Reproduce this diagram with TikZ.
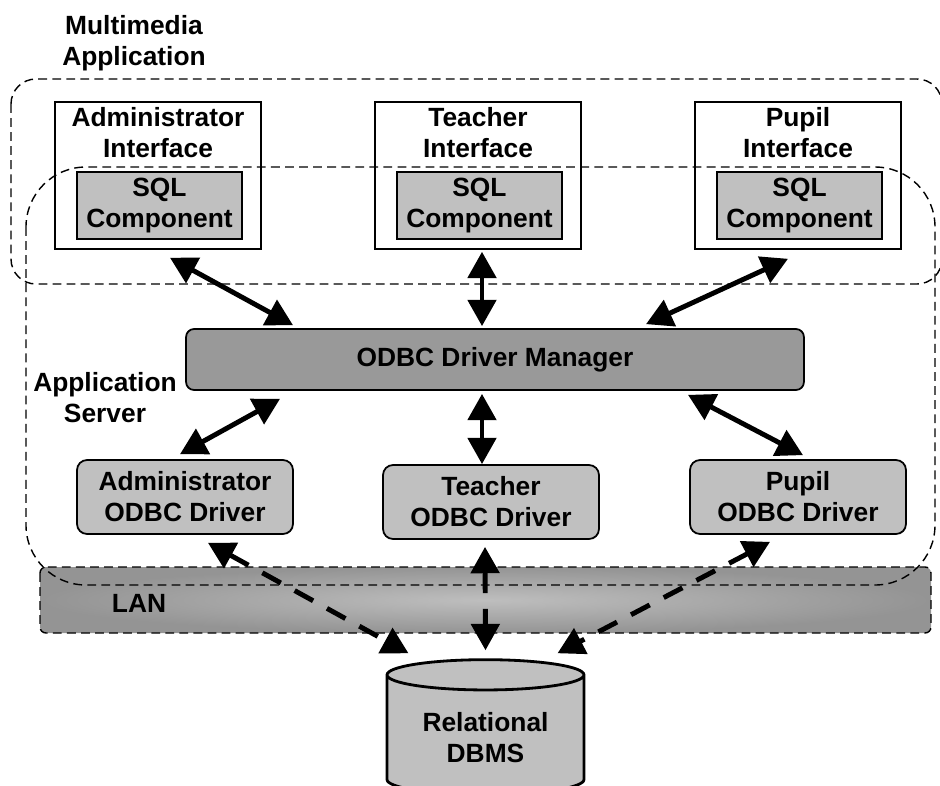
\documentclass[tikz,border=0pt]{standalone}
\usepackage{fontspec}
\setmainfont{Liberation Sans}
\usetikzlibrary{arrows.meta,shapes.geometric}

\definecolor{sqlgray}{HTML}{C0C0C0}
\definecolor{mgrgray}{HTML}{999999}
\definecolor{lanlight}{HTML}{BEBEBE}
\definecolor{landark}{HTML}{949494}

\begin{document}
\begin{tikzpicture}[x=0.02cm, y=-0.02cm,
  font=\fontsize{15}{17.6}\selectfont\bfseries,
  >={Triangle[length=15pt,width=16pt]},
  iface/.style={draw, line width=0.9pt, fill=white, minimum width=4.12cm, minimum height=2.94cm},
  title/.style={anchor=north, align=center, inner sep=3.5pt},
  sql/.style={draw, line width=1.2pt, fill=sqlgray, minimum width=3.3cm, minimum height=1.34cm, align=center, inner sep=1pt},
  driver/.style={draw, line width=1pt, fill=sqlgray, rounded corners=0.2cm, minimum width=4.32cm, minimum height=1.48cm, align=center, inner sep=1pt},
  region/.style={line width=0.8pt, dash pattern=on 5pt off 3pt},
  link/.style={<->, line width=2.8pt},
  lanlink/.style={<->, line width=2.8pt, dash pattern=on 12pt off 9pt}]
  \useasboundingbox (0,0) rectangle (940,785);
  % network band
  \shade[region, draw, rounded corners=0.12cm, inner color=lanlight, outer color=landark]
    (40,567) rectangle (931,633);
  \node (lan) at (139,603) {LAN};
  % client interfaces with their SQL parts
  \node[iface, label={[title]north:Administrator\\Interface}] (ai) at (158,175.5) {};
  \node[iface, label={[title]north:Teacher\\Interface}]       (ti) at (478,175.5) {};
  \node[iface, label={[title]north:Pupil\\Interface}]         (pi) at (798,175.5) {};
  \node[sql] (as) at (159.5,205.5) {SQL\\Component};
  \node[sql] (ts) at (479.5,205.5) {SQL\\Component};
  \node[sql] (ps) at (799.5,205.5) {SQL\\Component};
  % server side
  \node[draw, line width=1pt, fill=mgrgray, rounded corners=0.16cm, minimum width=12.36cm, minimum height=1.22cm]
    (mgr) at (495,359.5) {ODBC Driver Manager};
  \node[driver] (ad) at (185,497) {Administrator\\ODBC Driver};
  \node[driver] (td) at (491,502) {Teacher\\ODBC Driver};
  \node[driver] (pd) at (798,497) {Pupil\\ODBC Driver};
  \node[cylinder, shape border rotate=90, aspect=0.22, draw, line width=1.6pt, fill=sqlgray,
    minimum width=3.94cm, minimum height=2.7cm, align=center] (db) at (485.5,738) {Relational\\DBMS};
  % dashed groups
  \draw[region, rounded corners=0.5cm] (11,79) rectangle (942,284);
  \draw[region, rounded corners=1.2cm] (26,167) rectangle (935,585);
  \node[align=center] (mma) at (134,43) {Multimedia\\Application};
  \node[align=center] (aps) at (105,398) {Application\\Server};
  % connections
  \draw[link] ([shift={(12,8)}]ai.south) -- ([shift={(-202,-3)}]mgr.north);
  \draw[link] ([shift={(4,2)}]ti.south) -- ([shift={(-13,-2)}]mgr.north);
  \draw[link] ([shift={(-10,9)}]pi.south) -- ([shift={(151,-4)}]mgr.north);
  \draw[link] ([shift={(-215,8)}]mgr.south) -- ([shift={(-5,-5)}]ad.north);
  \draw[link] ([shift={(-13,3)}]mgr.south) -- ([shift={(-9,0)}]td.north);
  \draw[link] ([shift={(193,4)}]mgr.south) -- ([shift={(5,-4)}]pd.north);
  \draw[lanlink] ([shift={(23,8)}]ad.south) -- ([shift={(-77,-5)}]db.north);
  \draw[lanlink] ([shift={(-6,7)}]td.south) -- ([shift={(0,-8)}]db.north);
  \draw[lanlink] ([shift={(-28,7)}]pd.south) -- ([shift={(72,-5)}]db.north);
\end{tikzpicture}
\end{document}
